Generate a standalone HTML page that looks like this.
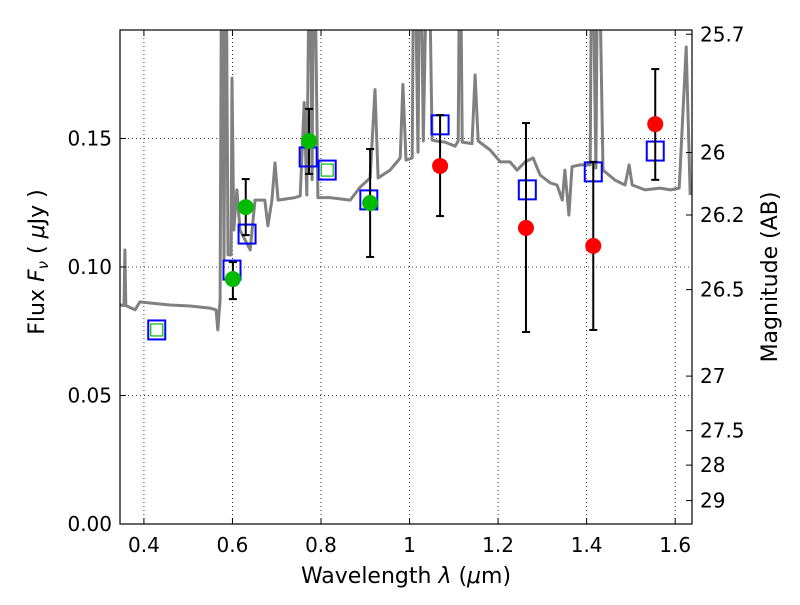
<!DOCTYPE html>
<html><head><meta charset="utf-8"><style>
body{margin:0;background:#fff;}
svg text{font-family:"DejaVu Sans","Liberation Sans",sans-serif;}
</style></head><body>
<svg id="c" width="800" height="600" xmlns="http://www.w3.org/2000/svg"></svg>
<script>
const specLam=[0.346,0.355,0.357,0.359,0.380,0.391,0.414,0.459,0.504,0.549,0.563,0.567,0.572,0.576,0.581,0.585,0.590,0.597,0.599,0.603,0.610,0.617,0.640,0.651,0.673,0.680,0.689,0.696,0.703,0.741,0.753,0.762,0.768,0.775,0.780,0.784,0.793,0.820,0.866,0.888,0.911,0.922,0.929,0.956,0.979,0.985,0.992,1.006,1.010,1.019,1.024,1.031,1.042,1.051,1.060,1.080,1.103,1.110,1.114,1.119,1.141,1.148,1.155,1.182,1.205,1.227,1.243,1.261,1.279,1.295,1.318,1.333,1.345,1.351,1.360,1.367,1.385,1.408,1.412,1.421,1.426,1.437,1.464,1.487,1.496,1.503,1.532,1.566,1.589,1.609,1.625,1.634];
const specFlux=[0.0852,0.085,0.1066,0.085,0.0833,0.0864,0.086,0.0852,0.0848,0.084,0.0833,0.0755,0.087,0.25,0.1027,0.25,0.1047,0.1047,0.1735,0.1144,0.130,0.1144,0.1066,0.126,0.126,0.116,0.126,0.1405,0.126,0.127,0.1276,0.164,0.128,0.25,0.134,0.25,0.127,0.127,0.126,0.131,0.1346,0.169,0.1346,0.1377,0.1424,0.171,0.1416,0.1424,0.25,0.1447,0.25,0.149,0.25,0.1494,0.149,0.1486,0.147,0.149,0.25,0.1486,0.148,0.1747,0.149,0.1455,0.1409,0.1409,0.1377,0.1409,0.1424,0.1358,0.1327,0.1319,0.126,0.1377,0.1202,0.139,0.1397,0.1397,0.25,0.1385,0.25,0.1377,0.1338,0.1319,0.1397,0.1319,0.130,0.1307,0.130,0.1307,0.1856,0.128];
const sqLam=[0.429,0.599,0.633,0.771,0.814,0.908,1.069,1.266,1.415,1.555];
const sqFlux=[0.0755,0.0988,0.1128,0.1428,0.1377,0.1261,0.1553,0.130,0.137,0.1451];
const sqInner=[true,false,false,false,true,false,false,false,false,false];
const ptLam=[0.601,0.630,0.773,0.911,1.069,1.263,1.415,1.555];
const ptFlux=[0.0953,0.1233,0.149,0.1249,0.1393,0.1152,0.1082,0.1556];
const ptHi=[0.1019,0.1342,0.1615,0.1459,0.1591,0.156,0.1409,0.177];
const ptLo=[0.0875,0.1124,0.1362,0.1039,0.1198,0.0747,0.0755,0.1339];
const ptColor=['#00bb00','#00bb00','#00bb00','#00bb00','#ff0000','#ff0000','#ff0000','#ff0000'];
const xTicks=[0.4,0.6,0.8,1.0,1.2,1.4,1.6];
const xTickLabels=['0.4','0.6','0.8','1','1.2','1.4','1.6'];
const yTicks=[0,0.05,0.10,0.15];
const yTickLabels=['0.00','0.05','0.10','0.15'];
const magTicks=[25.7,26,26.2,26.5,27,27.5,28,29];
const magTickLabels=['25.7','26','26.2','26.5','27','27.5','28','29'];

const L=120,R=692,T=30,B=524,XMIN=0.346,XMAX=1.638,YMIN=0,YMAX=0.1922;
const X=v=>L+(v-XMIN)/(XMAX-XMIN)*(R-L);
const Y=v=>B-(v-YMIN)/(YMAX-YMIN)*(B-T);
const magToFlux=m=>Math.pow(10,(23.9-m)/2.5);
const svg=document.getElementById('c');
const NS='http://www.w3.org/2000/svg';
function mk(tag,attrs,parent){const e=document.createElementNS(NS,tag);for(const k in attrs)e.setAttribute(k,attrs[k]);(parent||svg).appendChild(e);return e;}

const defs=mk('defs',{});
const cp=mk('clipPath',{id:'clip'},defs);
mk('rect',{x:L,y:T,width:R-L,height:B-T},cp);

xTicks.forEach(t=>{const g=mk('line',{x1:X(t),x2:X(t),y1:T,y2:B,stroke:'#000','stroke-width':0.8,'stroke-dasharray':'1,3'});

});
yTicks.forEach(t=>{if(t===0)return;const g=mk('line',{x1:L,x2:R,y1:Y(t),y2:Y(t),stroke:'#000','stroke-width':0.8,'stroke-dasharray':'1,3'});

});

const pts=specLam.map((l,i)=>X(l).toFixed(1)+','+Y(specFlux[i]).toFixed(1)).join(' ');
const sp=mk('polyline',{points:pts,fill:'none',stroke:'#808080','stroke-width':3,'stroke-linejoin':'round','clip-path':'url(#clip)'});



sqLam.forEach((l,i)=>{const cx=X(l),cy=Y(sqFlux[i]);
if(sqInner[i]){const q=mk('rect',{x:cx-6,y:cy-6,width:12,height:12,fill:'none',stroke:'#00bb00','stroke-width':1.2});

}
const s=mk('rect',{x:cx-8.5,y:cy-9.5,width:17,height:19,fill:'none',stroke:'#0000ff','stroke-width':2});

});

ptLam.forEach((l,i)=>{const cx=X(l);
const g=mk('g',{});


mk('line',{x1:cx,x2:cx,y1:Y(ptHi[i]),y2:Y(ptLo[i]),stroke:'#000','stroke-width':2},g);
mk('line',{x1:cx-4,x2:cx+4,y1:Y(ptHi[i]),y2:Y(ptHi[i]),stroke:'#000','stroke-width':2},g);
mk('line',{x1:cx-4,x2:cx+4,y1:Y(ptLo[i]),y2:Y(ptLo[i]),stroke:'#000','stroke-width':2},g);
mk('circle',{cx:cx,cy:Y(ptFlux[i]),r:8,fill:ptColor[i]},g);});

const fr=mk('rect',{x:L,y:T,width:R-L,height:B-T,fill:'none',stroke:'#000','stroke-width':1.2});



xTicks.forEach((t,i)=>{const x=X(t);
mk('line',{x1:x,x2:x,y1:B,y2:B-6,stroke:'#000'});mk('line',{x1:x,x2:x,y1:T,y2:T+6,stroke:'#000'});
const tx=mk('text',{x:x,y:B+28,'font-size':20,'text-anchor':'middle'});tx.textContent=xTickLabels[i];

});
yTicks.forEach((t,i)=>{const y=Y(t);
mk('line',{x1:L,x2:L+6,y1:y,y2:y,stroke:'#000'});
const tx=mk('text',{x:L-8,y:y+7,'font-size':20,'text-anchor':'end'});tx.textContent=yTickLabels[i];

});
magTicks.forEach((m,i)=>{const y=Y(magToFlux(m));
mk('line',{x1:R,x2:R-6,y1:y,y2:y,stroke:'#000'});
const tx=mk('text',{x:R+8,y:y+7,'font-size':20});tx.textContent=magTickLabels[i];

});
</script>
<svg style="position:absolute;left:0;top:0" width="800" height="600" xmlns="http://www.w3.org/2000/svg">
<text x="406" y="583" font-size="22" text-anchor="middle" font-family="DejaVu Sans, sans-serif">Wavelength  <tspan font-style="italic">λ</tspan> (<tspan font-style="italic">μ</tspan>m)</text>
<text transform="translate(44,262) rotate(-90)" font-size="22" text-anchor="middle" font-family="DejaVu Sans, sans-serif">Flux  <tspan font-style="italic">F</tspan><tspan font-style="italic" font-size="15" dy="4">ν</tspan><tspan dy="-4">  ( </tspan><tspan font-style="italic">μ</tspan>Jy )</text>
<text transform="translate(777,277) rotate(-90)" font-size="22" text-anchor="middle" font-family="DejaVu Sans, sans-serif">Magnitude (AB)</text>
</svg>
</body></html>
